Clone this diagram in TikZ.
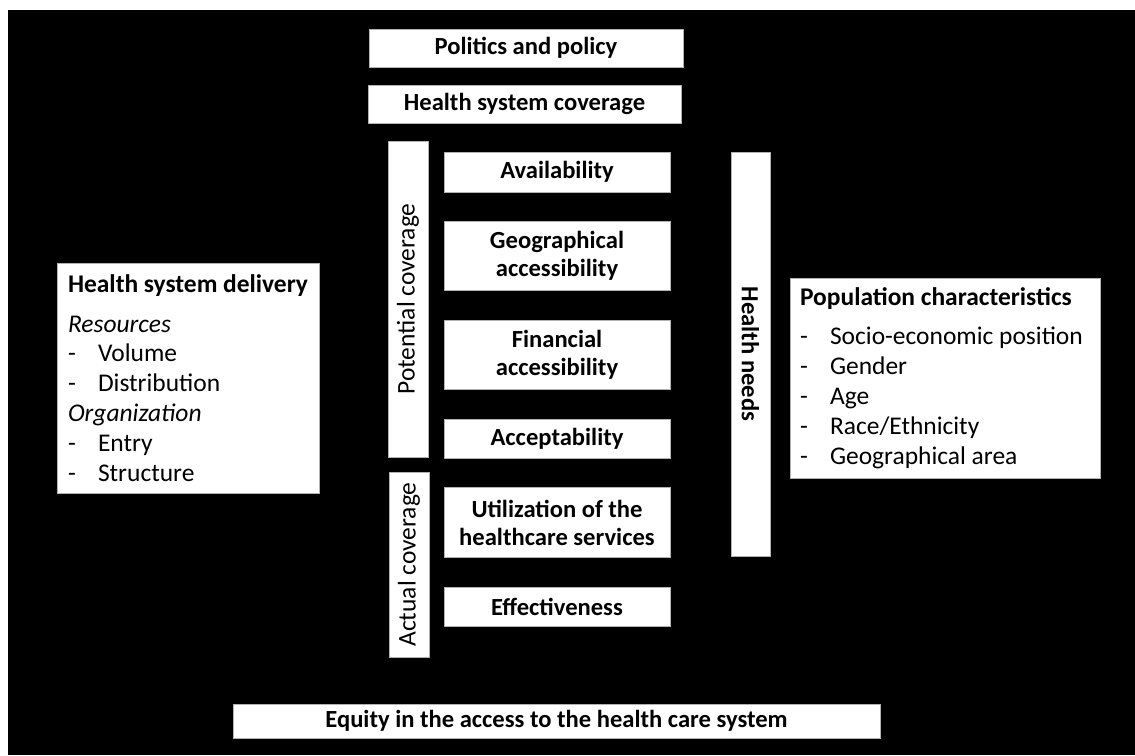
\documentclass[tikz,border=0pt]{standalone}
\usepackage{fontspec}
\setmainfont{Carlito}
\usetikzlibrary{positioning}
\newcommand\dashitem[1]{\makebox[0.6cm][l]{-}#1}
\newcommand\listfont{\fontsize{14.5}{17}\selectfont}
\tikzset{x=0.02cm, y=-0.02cm, % one unit is one pixel of the sketch
box/.style={draw=gray!60, fill=white, thin, inner sep=1pt, align=center,
  font=\bfseries\fontsize{14}{16}\selectfont}, % white boxes with bold text
colbox/.style={box, minimum width=4.52cm}, % boxes of the middle column
sidebar/.style={draw=gray!60, fill=white, thin, inner sep=1pt, minimum height=0.8cm,
  font=\fontsize{14.5}{16}\selectfont}, % upright bars with turned text
listbox/.style={draw=gray!60, fill=white, thin, align=flush left, inner ysep=2pt,
  font=\listfont}, % boxes with a list
node distance=0.58cm, % gap between the boxes of the column
}

\begin{document}
\begin{tikzpicture}
\fill[white] (0,0) rectangle (1135,755);
\fill[black] (8,10) rectangle (1135,755);

\node[box, minimum width=6.28cm, minimum height=0.76cm] (politics) at (526,48) {Politics and policy};
\node[box, minimum width=6.26cm, minimum height=0.76cm] (coverage) at (524.5,104) {Health system coverage};

% the column
\node[colbox, minimum height=0.8cm] (avail) at (557,172) {Availability};
\node[colbox, minimum height=1.38cm, below=of avail] (geo) {Geographical\\accessibility};
\node[colbox, minimum height=1.38cm, below=of geo] (fin) {Financial\\accessibility};
\node[colbox, minimum height=0.78cm, below=of fin] (accept) {Acceptability};
\node[colbox, minimum height=1.4cm, below=of accept] (util) {Utilization of the\\healthcare services};
\node[colbox, minimum height=0.78cm, below=of util] (effect) {Effectiveness};

\node[sidebar, rotate=90, minimum width=6.32cm] (potential) at (408,299) {Potential coverage};
\node[sidebar, rotate=90, minimum width=3.7cm] (actual) at (409,564.5) {Actual coverage};
\node[sidebar, rotate=-90, minimum width=8.08cm, minimum height=0.78cm, font=\bfseries\fontsize{14}{16}\selectfont] (needs) at (750.5,354) {Health needs};

\node[listbox, text width=4.8cm, inner xsep=0.22cm, minimum height=4.6cm] (delivery) at (188,378)
{\textbf{Health system delivery}\\[0.2cm]
\textit{Resources}\\
\dashitem{Volume}\\
\dashitem{Distribution}\\
\textit{Organization}\\
\dashitem{Entry}\\
\dashitem{Structure}};

\node[listbox, text width=5.8cm, inner xsep=0.2cm, minimum height=4cm] (population) at (945,378)
{\textbf{Population characteristics}\\[0.2cm]
\dashitem{Socio-economic position}\\
\dashitem{Gender}\\
\dashitem{Age}\\
\dashitem{Race/Ethnicity}\\
\dashitem{Geographical area}};

\node[box, minimum width=12.94cm, minimum height=0.68cm] (equity) at (556.5,721) {Equity in the access to the health care system};
\end{tikzpicture}
\end{document}
